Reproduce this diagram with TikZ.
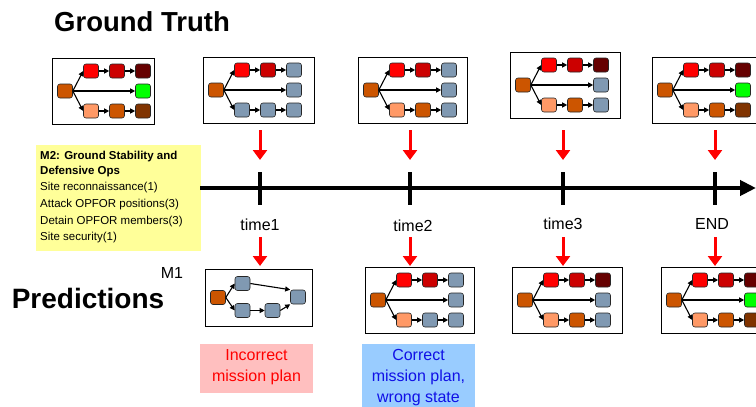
\documentclass[tikz,border=0pt]{standalone}
\usepackage{fontspec}
\setmainfont{Liberation Sans}
\usetikzlibrary{arrows.meta}
\definecolor{rootc}{RGB}{204,85,0}
\definecolor{cred}{RGB}{255,0,0}
\definecolor{cdred}{RGB}{204,0,0}
\definecolor{cmaroon}{RGB}{102,0,0}
\definecolor{cgreen}{RGB}{0,255,0}
\definecolor{clor}{RGB}{255,153,102}
\definecolor{cor}{RGB}{204,85,0}
\definecolor{cbrown}{RGB}{128,51,0}
\definecolor{cgray}{RGB}{128,153,178}
\definecolor{yellowc}{RGB}{255,255,153}
\definecolor{pinkc}{RGB}{255,191,191}
\definecolor{bluec}{RGB}{153,204,255}
\definecolor{bluetext}{RGB}{16,16,230}
\tikzset{
  gbox/.style={draw=black, line width=1.2pt, fill=white, minimum height=66pt, inner sep=0},
  gnode/.style={draw=black!85, line width=0.6pt, rounded corners=2.5pt, minimum width=15pt, minimum height=14pt, inner sep=0},
  garr/.style={line width=1.1pt, -{Triangle[length=5pt,width=5pt]}},
  redarr/.style={draw=red, line width=3pt, -{Triangle[length=10pt,width=14pt]}},
  tline/.style={line width=4pt, -{Triangle[length=16pt,width=15pt]}},
  tick/.style={fill=black, minimum width=4pt, minimum height=33pt, inner sep=0},
  tlabel/.style={font=\fontsize{16}{19}\selectfont},
  ytext/.style={anchor=west, inner sep=0, font=\fontsize{11.5}{14}\selectfont},
}
\newcommand\gtbox[8]{%
\begin{scope}[shift={(#2)}]
\node[gbox, minimum width=#3pt, anchor=north west] (#1) at (0,0) {};
\node[gnode, fill=rootc] (#1r) at (13,33) {};
\node[gnode, fill=cred] (#1t1) at (39,13) {};
\node[gnode, fill=cdred] (#1t2) at (65,13) {};
\node[gnode, fill=#4] (#1t3) at (91,13) {};
\node[gnode, fill=#5] (#1m) at (91,33) {};
\node[gnode, fill=#6] (#1b1) at (39,53) {};
\node[gnode, fill=#7] (#1b2) at (65,53) {};
\node[gnode, fill=#8] (#1b3) at (91,53) {};
\draw[garr] (#1r.east) -- (#1t1.west);
\draw[garr] (#1r.east) -- (#1m.west);
\draw[garr] (#1r.east) -- (#1b1.west);
\draw[garr] (#1t1.east) -- (#1t2.west);
\draw[garr] (#1t2.east) -- (#1t3.west);
\draw[garr] (#1b1.east) -- (#1b2.west);
\draw[garr] (#1b2.east) -- (#1b3.west);
\end{scope}}
\begin{document}
\begin{tikzpicture}[x=1pt,y=-1pt]
\useasboundingbox (0,0) rectangle (756,407);
\clip (0,0) rectangle (756,407);
% titles
\node[font=\fontsize{27.5}{31}\selectfont\bfseries] (title) at (142,22) {Ground Truth};
\node[font=\fontsize{28}{32}\selectfont\bfseries] (pred) at (88,298) {Predictions};
\node[font=\fontsize{16}{19}\selectfont] (m1) at (172,273) {M1};
% ground truth boxes
\gtbox{g1}{52,58}{102}{cmaroon}{cgreen}{clor}{cor}{cbrown}
\gtbox{g2}{203,57}{111}{cgray}{cgray}{cgray}{cgray}{cgray}
\gtbox{g3}{358,57}{109}{cgray}{cgray}{clor}{cor}{cgray}
\gtbox{g4}{510,52}{110}{cmaroon}{cgray}{clor}{cor}{cgray}
\gtbox{g5}{652,57}{110}{cmaroon}{cgreen}{clor}{cor}{cbrown}
% prediction boxes
\node[gbox, minimum width=107pt, minimum height=57pt, anchor=north west] (p1) at (205,269) {};
\node[gnode, fill=rootc] (p1r) at (218,297.5) {};
\node[gnode, fill=cgray] (p1t) at (242.5,283.5) {};
\node[gnode, fill=cgray] (p1b1) at (242.5,310.5) {};
\node[gnode, fill=cgray] (p1b2) at (272.5,310.5) {};
\node[gnode, fill=cgray] (p1e) at (298,297) {};
\draw[garr] (p1r.east) -- (p1t.west);
\draw[garr] (p1r.east) -- (p1b1.west);
\draw[garr] (p1t.east) -- (p1e.north west);
\draw[garr] (p1b1.east) -- (p1b2.west);
\draw[garr] (p1b2.east) -- (p1e.south west);
\gtbox{p2}{365,267}{109}{cgray}{cgray}{clor}{cgray}{cgray}
\gtbox{p3}{512,267}{110}{cmaroon}{cgray}{clor}{cor}{cgray}
\gtbox{p4}{661,267}{110}{cmaroon}{cgreen}{clor}{cor}{cbrown}
% yellow box
\node[fill=yellowc, minimum width=165pt, minimum height=106pt, anchor=north west, inner sep=0] (ybox) at (36,145) {};
\node[ytext, font=\fontsize{11.5}{14}\selectfont\bfseries] (y1) at (40,157) {M2: Ground Stability and};
\node[ytext, font=\fontsize{11.5}{14}\selectfont\bfseries] (y2) at (40,172) {Defensive Ops};
\node[ytext] (y3) at (40,188) {Site reconnaissance(1)};
\node[ytext] (y4) at (40,205) {Attack OPFOR positions(3)};
\node[ytext] (y5) at (40,222) {Detain OPFOR members(3)};
\node[ytext] (y6) at (40,238) {Site security(1)};
% timeline
\coordinate (ts) at (200,188);
\coordinate (te) at (756,188);
\draw[tline] (ts) -- (te);
\node[tick] (k1) at (260,188.5) {};
\node[tick] (k2) at (410,188.5) {};
\node[tick] (k3) at (563,188.5) {};
\node[tick] (k4) at (715,188.5) {};
\node[tlabel] (l1) at (260,225) {time1};
\node[tlabel] (l2) at (413,226) {time2};
\node[tlabel] (l3) at (563,224) {time3};
\node[tlabel] (l4) at (712,224) {END};
% red arrows
\foreach \i/\x in {1/260,2/410,3/563,4/715}{
  \coordinate (ua\i) at (\x,130);
  \coordinate (ub\i) at (\x,160);
  \coordinate (da\i) at (\x,237);
  \coordinate (db\i) at (\x,266);
  \draw[redarr] (ua\i) -- (ub\i);
  \draw[redarr] (da\i) -- (db\i);
}
% comment boxes
\node[fill=pinkc, minimum width=113pt, minimum height=49pt, inner sep=0] (pink) at (256.5,368.5) {};
\node[align=center, text=red, font=\fontsize{16}{21}\selectfont] (pinkt) at (256.5,367.5) {Incorrect\\mission plan};
\node[fill=bluec, minimum width=113pt, minimum height=66pt, inner sep=0] (blue) at (418.5,377) {};
\node[align=center, text=bluetext, font=\fontsize{16}{21}\selectfont] (bluet) at (418.5,378) {Correct\\mission plan,\\wrong state};
\end{tikzpicture}
\end{document}
